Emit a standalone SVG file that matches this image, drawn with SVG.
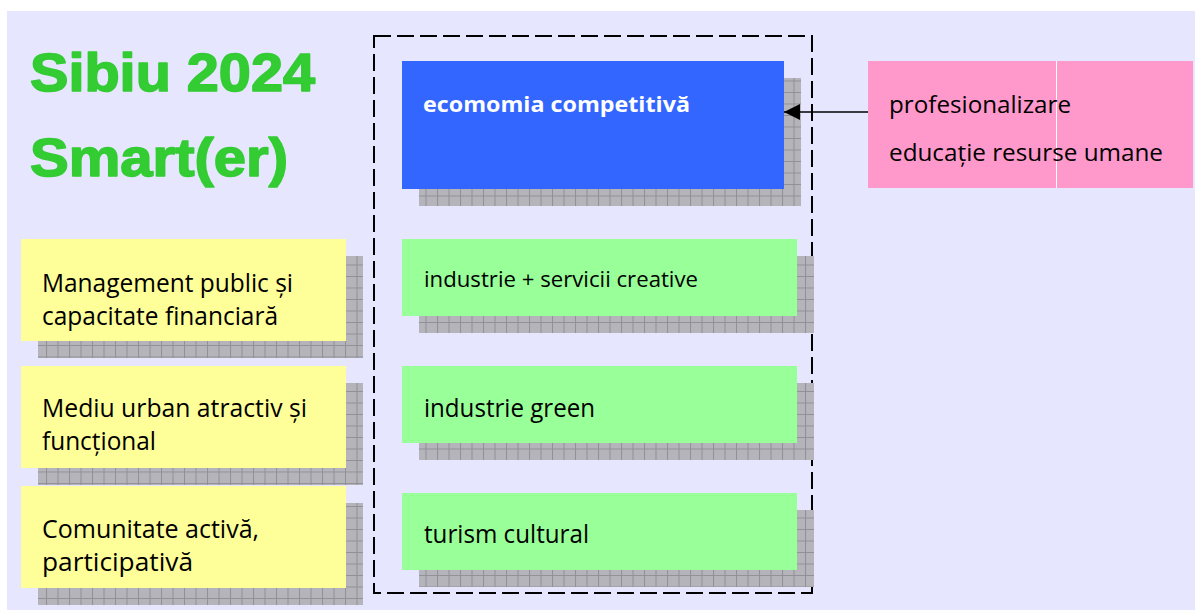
<svg xmlns="http://www.w3.org/2000/svg" width="1195" height="610" viewBox="0 0 1195 610">
<defs>
<pattern id="grid" patternUnits="userSpaceOnUse" width="11.5" height="11.5">
<rect width="11.5" height="11.5" fill="#B4B4BA"/>
<path d="M0 0.5H11.5M0.5 0V11.5" stroke="#909096" stroke-width="1"/>
</pattern>
<marker id="arr" viewBox="0 0 16 16" refX="16" refY="8" markerWidth="16" markerHeight="16" markerUnits="userSpaceOnUse" orient="auto">
<path d="M0 0L16 8L0 16Z" fill="#000"/>
</marker>
</defs>
<style>
.sh{fill:url(#grid)}
.t{font-family:"Open Sans","Noto Sans","Liberation Sans",sans-serif;fill:#000}
.title{font-family:"Liberation Sans",Arial,sans-serif;font-weight:bold;fill:#33CC33;stroke:#33CC33;stroke-width:1.6;stroke-linejoin:round;font-size:53px}
.yel{fill:#FFFF99}
.grn{fill:#99FF99}
</style>
<rect x="7" y="11" width="1188" height="599" fill="#E6E6FF"/>
<g id="title">
<text class="title" x="30" y="91" textLength="285" lengthAdjust="spacingAndGlyphs">Sibiu 2024</text>
<text class="title" x="30" y="176" textLength="258" lengthAdjust="spacingAndGlyphs">Smart(er)</text>
</g>
<g id="frame">
<rect x="374" y="36" width="438" height="557" fill="none" stroke="#000" stroke-width="2" stroke-dasharray="17 6"/>
</g>
<g id="n-management">
<rect class="sh" x="38" y="256" width="325" height="102"/>
<rect class="yel" x="21" y="239" width="325" height="102"/>
<text class="t" x="42" y="292" font-size="25" textLength="251" lengthAdjust="spacingAndGlyphs">Management public și</text>
<text class="t" x="42" y="325" font-size="25" textLength="236" lengthAdjust="spacingAndGlyphs">capacitate financiară</text>
</g>
<g id="n-mediu">
<rect class="sh" x="38" y="383" width="325" height="102"/>
<rect class="yel" x="21" y="366" width="325" height="102"/>
<text class="t" x="42" y="417" font-size="25" textLength="265" lengthAdjust="spacingAndGlyphs">Mediu urban atractiv și</text>
<text class="t" x="42" y="450" font-size="25" textLength="114" lengthAdjust="spacingAndGlyphs">funcțional</text>
</g>
<g id="n-comunitate">
<rect class="sh" x="38" y="503" width="325" height="102"/>
<rect class="yel" x="21" y="486" width="325" height="102"/>
<text class="t" x="42" y="538" font-size="25" textLength="217" lengthAdjust="spacingAndGlyphs">Comunitate activă,</text>
<text class="t" x="42" y="571" font-size="25" textLength="151" lengthAdjust="spacingAndGlyphs">participativă</text>
</g>
<g id="n-economia">
<rect class="sh" x="419" y="78" width="382" height="128"/>
<rect x="402" y="61" width="382" height="128" fill="#3366FF"/>
<text class="t" x="423" y="112" font-size="22" font-weight="bold" style="fill:#fff" textLength="267" lengthAdjust="spacingAndGlyphs">ecomomia competitivă</text>
</g>
<g id="n-creative">
<rect class="sh" x="419" y="256" width="395" height="77"/>
<rect class="grn" x="402" y="239" width="395" height="77"/>
<text class="t" x="424" y="287" font-size="22" textLength="274" lengthAdjust="spacingAndGlyphs">industrie + servicii creative</text>
</g>
<g id="n-green">
<rect class="sh" x="419" y="383" width="395" height="77"/>
<rect class="grn" x="402" y="366" width="395" height="77"/>
<text class="t" x="424" y="417" font-size="25" textLength="171" lengthAdjust="spacingAndGlyphs">industrie green</text>
</g>
<g id="n-turism">
<rect class="sh" x="419" y="510" width="395" height="77"/>
<rect class="grn" x="402" y="493" width="395" height="77"/>
<text class="t" x="424" y="543" font-size="25" textLength="165" lengthAdjust="spacingAndGlyphs">turism cultural</text>
</g>
<g id="n-profesionalizare">
<rect x="868" y="61" width="325" height="127" fill="#FF99CC"/>
<line x1="1056.5" y1="61" x2="1056.5" y2="188" stroke="#FFFFFF" stroke-width="1"/>
<text class="t" x="889" y="113" font-size="24" textLength="182" lengthAdjust="spacingAndGlyphs">profesionalizare</text>
<text class="t" x="889" y="161" font-size="24" textLength="274" lengthAdjust="spacingAndGlyphs">educație resurse umane</text>
</g>
<g id="connectors">
<line x1="868" y1="112" x2="784" y2="112" stroke="#000" stroke-width="1.6" marker-end="url(#arr)"/>
</g>
</svg>
